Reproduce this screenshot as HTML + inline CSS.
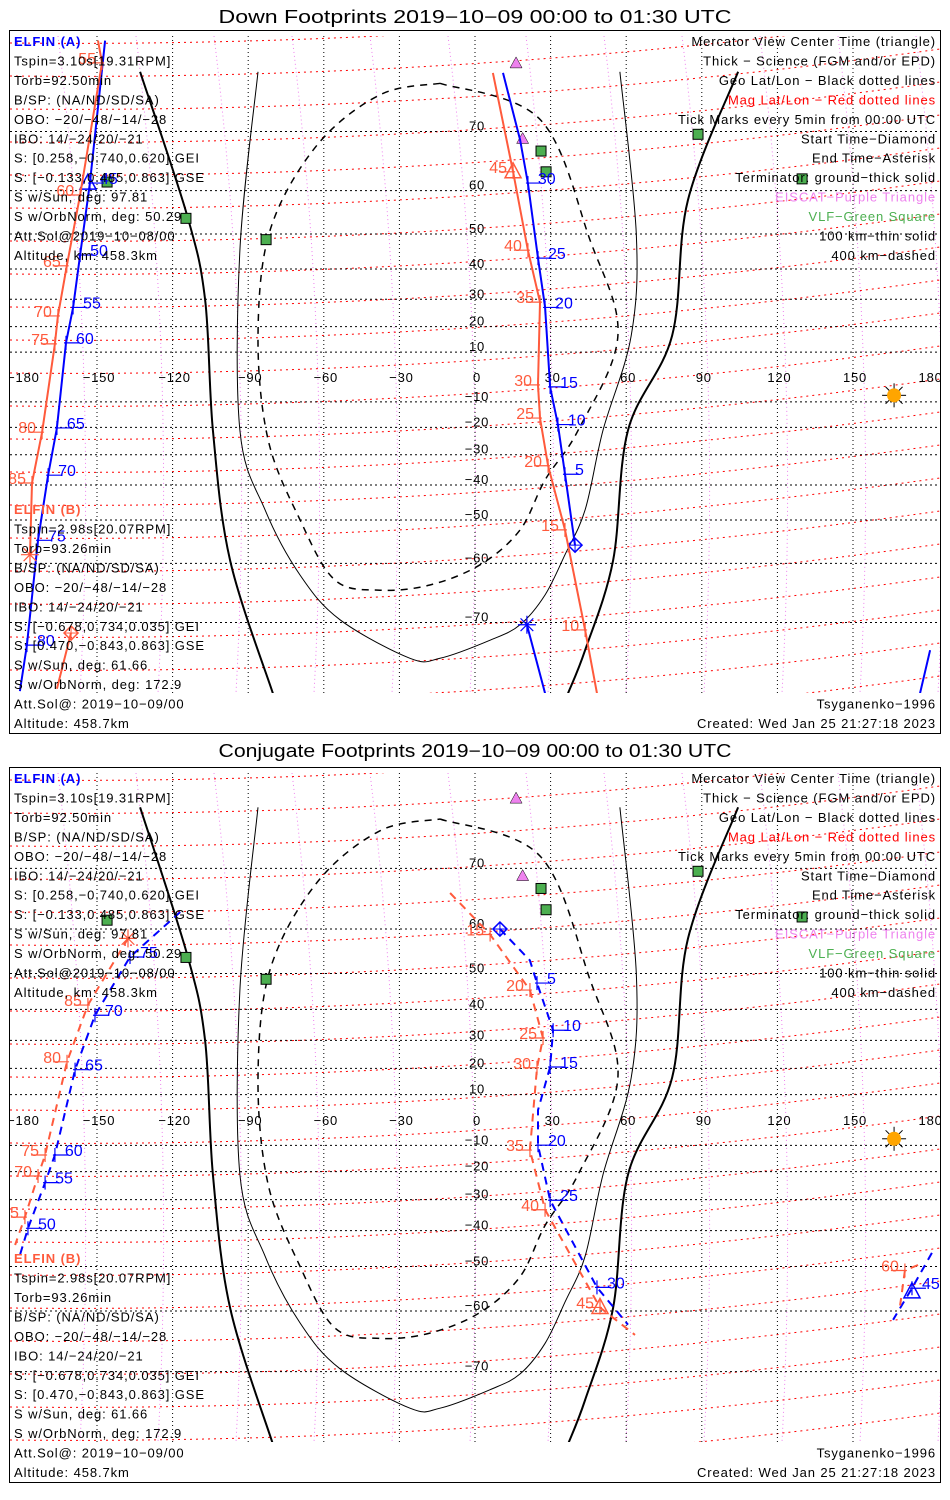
<!DOCTYPE html>
<html><head><meta charset="utf-8"><title>ELFIN Footprints</title>
<style>
html,body{margin:0;padding:0;background:#fff;}
svg{display:block;font-family:"Liberation Sans",sans-serif;}
</style></head>
<body>
<svg id="chart" width="950" height="1500" viewBox="0 0 950 1500" xmlns="http://www.w3.org/2000/svg"></svg>
<script>
// ---------- data (lon, lat in degrees) ----------
const lonTicks = [-180,-150,-120,-90,-60,-30,0,30,60,90,120,150,180];
const latTicks = [70,60,50,40,30,20,10,-10,-20,-30,-40,-50,-60,-70];

// terminator / footprint boundary curves (shared by both panels)
const termThickLeftLon = [-132.9,-114.3,-107.1,-104,-97.2,-80.2];
const termThickLeftLat = [76.8,54.7,29.9,-21.1,-59.4,-77.8];
const termThickRightLon = [104.4,84.5,78.2,60.7,54.8,43.7,36.9];
const termThickRightLat = [76.8,58,16.5,-21.1,-59.4,-73.5,-77.8];
const thinLoopLon = [-86.1,-93.3,-93.3,-83.3,-69.4,-53.6,-25.8,-13.9,6,17.9,27.8,35.7,43.7,50.8,62,64,57.5];
const thinLoopLat = [76.8,45.6,-21.1,-47.3,-62.3,-69.6,-74.4,-74.4,-72.3,-70.3,-65.8,-58.2,-47.3,-21.1,16.5,50,76.8];
const dashLoopLon = [-13.9,25.8,45.6,56.7,40.9,27.8,17.9,2,-17.9,-37.7,-55.6,-69.4,-82.1,-86.1,-81.3,-62.7,-37.7,-13.9];
const dashLoopLat = [75.7,71.6,48.5,16.5,-21.1,-38.4,-52.5,-60.3,-64.1,-65,-63.2,-50,-24.6,16.5,51,68,74.5,75.7];

const vlfLon = [-146,-114.7,-82.9,26.2,28.2,88.5,129.8];
const vlfLat = [61.7,53.9,48.5,67.1,63.6,69.6,62.3];
const eiscatLon = [16.3,18.9];
const eiscatLat = [77.6,69];
const sunLon = [166.3];
const sunLat = [-7.4];

// ---- Down footprints: ELFIN A (blue) ----
const downATickTimes = [5,10,15,20,25,30,45,50,55,60,65,70,75,80];
const downATickLon = [35.7,32.9,29.8,27.8,25,21,-152.8,-156.7,-159.5,-162.3,-165.9,-169.4,-173.4,-177.8];
const downATickLat = [-36.6,-18.9,-4.0,27.1,43.3,61.5,61.5,44.2,27.1,13.7,-20.2,-36.9,-55,-72.9];
const downAMidLon = [11.1,17.9,21,25,27.8,29.8,32.9,35.7,39.7];
const downAMidLat = [76.7,68.8,61.5,43.3,27.1,-4.0,-18.9,-36.6,-56.1];
const downALeftLon = [-146.8,-152.8,-156.7,-159.5,-162.3,-165.9,-169.4,-173.4,-177.8,-180.6];
const downALeftLat = [79.4,61.5,44.2,27.1,13.7,-20.2,-36.9,-55,-72.9,-77.6];
const downAEndLon = [20.6,27.8];
const downAEndLat = [-70.3,-77.8];
const downARightLon = [180.6,176.6];
const downARightLat = [-73.5,-77.8];
const downAStart = [39.7,-56.1], downAEnd = [20.6,-70.3], downAView = [-153.6,61.5];

// ---- Down footprints: ELFIN B (red) ----
const downBTickTimes = [10,15,20,25,30,35,40,45,55,60,65,70,75,80,85];
const downBTickLon = [43.7,35.7,29,25.8,25,25.8,21,15.1,-148,-156.7,-162,-165.5,-166.7,-171.8,-175.8];
const downBTickLat = [-71,-52.5,-33.8,-16.4,-3.2,29,45.6,63.6,77.6,59.1,41,24,13.3,-21.8,-39.4];
const downBMidLon = [7.1,15.1,21,25.8,25,25.8,29,35.7,43.7,48.4];
const downBMidLat = [76.7,63.6,45.6,29,-3.2,-16.4,-33.8,-52.5,-71,-77.8];
const downBLeftLon = [-149.6,-148,-156.7,-162,-165.5,-166.7,-171.8,-175.8,-176.6];
const downBLeftLat = [79.4,77.6,59.1,41,24,13.3,-21.8,-39.4,-58.2];
const downBTailLon = [-160.3,-165.9];
const downBTailLat = [-71.4,-77.4];
const downBStart = [-160.3,-71.4], downBEnd = [-176.6,-58.2], downBView = [15.1,63.6];

// ---- Conjugate footprints: ELFIN A (blue) ----
const conjATickTimes = [5,10,15,20,25,30,45,50,55,60,65,70,75];
const conjATickLon = [24.6,31,29.8,25,29.8,48.4,173.4,-177.4,-170.6,-166.7,-158.7,-150.8,-136.9];
const conjATickLat = [47.5,33.4,20.5,-9.9,-30.2,-55,-55.2,-39.3,-24,-13.7,19.5,38.2,54];
const conjAMidLon = [9.9,21.8,24.6,31,29.8,25,25,29.8,48.4,60.7];
const conjAMidLat = [60,53.2,47.5,33.4,20.5,3.9,-9.9,-30.2,-55,-62.6];
const conjALeftLon = [-117,-136.9,-150.8,-158.7,-166.7,-170.6,-177.4,-180.6];
const conjALeftLat = [63.2,54,38.2,19.5,-13.7,-24,-39.3,-47];
const conjARightLon = [181.3,173.4,165.9];
const conjARightLat = [-46.4,-55.2,-61.7];
const conjAStart = [9.9,60], conjAView = [173.4,-56];

// ---- Conjugate footprints: ELFIN B (red) ----
const conjBTickTimes = [15,20,25,30,35,40,45,60,65,70,75,80,85];
const conjBTickLon = [6,21.8,27,24.6,21.8,27.8,49.6,170.6,-178.6,-173.4,-170.6,-161.9,-153.6];
const conjBTickLat = [58.9,45.6,30.8,20.2,-11.8,-33.4,-59.3,-51,-35.8,-21.6,-13.7,22.4,41.3];
const conjBMidLon = [-9.9,6,21.8,27,24.6,21.8,27.8,49.6,63.5];
const conjBMidLat = [66.4,58.9,45.6,30.8,20.2,-11.8,-33.4,-59.3,-64.4];
const conjBLeftLon = [-137.7,-153.6,-161.9,-170.6,-173.4,-178.6,-182.5];
const conjBLeftLat = [58.1,41.3,22.4,-13.7,-21.6,-35.8,-44.2];
const conjBRightLon = [175.8,170.6,168.7];
const conjBRightLat = [-49.6,-51,-58.9];
const conjBEnd = [-137.7,58.1], conjBView = [49.6,-59.3];

const leftA = ["Tspin=3.10s[19.31RPM]","Torb=92.50min","B/SP: (NA/ND/SD/SA)","OBO: \u221220/\u221248/\u221214/\u221228","IBO: 14/\u221224/20/\u221221","S: [0.258,\u22120.740,0.620] GEI","S: [\u22120.133,0.485,0.863] GSE","S w/Sun, deg: 97.81","S w/OrbNorm, deg: 50.29","Att.Sol@2019\u221210\u221208/00","Altitude, km: 458.3km"];
const leftB = ["Tspin=2.98s[20.07RPM]","Torb=93.26min","B/SP: (NA/ND/SD/SA)","OBO: \u221220/\u221248/\u221214/\u221228","IBO: 14/\u221224/20/\u221221","S: [\u22120.678,0.734,0.035] GEI","S: [0.470,\u22120.843,0.863] GSE","S w/Sun, deg: 61.66","S w/OrbNorm, deg: 172.9","Att.Sol@: 2019\u221210\u221209/00","Altitude: 458.7km"];
const legendText = ["Mercator View Center Time (triangle)","Thick \u2212 Science (FGM and/or EPD)","Geo Lat/Lon \u2212 Black dotted lines","Mag Lat/Lon \u2212 Red dotted lines","Tick Marks every 5min from 00:00 UTC","Start Time\u2212Diamond","End Time\u2212Asterisk","Terminator: ground\u2212thick solid","EISCAT\u2212Purple Triangle","VLF\u2212Green Square","100 km\u2212thin solid","400 km\u2212dashed"];
const legendColor = ["#000","#000","#000","#ff0000","#000","#000","#000","#000","#ee82ee","#4caf50","#000","#000"];

// ---------- drawing ----------
const NS="http://www.w3.org/2000/svg";
const svg=document.getElementById('chart');
const BLUE="#0000ff", RED="#ff5a3c";
function el(tag,attrs,parent){const e=document.createElementNS(NS,tag);for(const k in attrs)e.setAttribute(k,attrs[k]);(parent||svg).appendChild(e);return e;}
function txt(s,attrs,parent){const t=el('text',attrs,parent);t.textContent=s;return t;}
function smooth(pts){
  let d=`M${pts[0][0].toFixed(1)},${pts[0][1].toFixed(1)}`;
  for(let i=0;i<pts.length-1;i++){
    const p0=pts[Math.max(0,i-1)],p1=pts[i],p2=pts[i+1],p3=pts[Math.min(pts.length-1,i+2)];
    const c1=[p1[0]+(p2[0]-p0[0])/6,p1[1]+(p2[1]-p0[1])/6];
    const c2=[p2[0]-(p3[0]-p1[0])/6,p2[1]-(p3[1]-p1[1])/6];
    d+=` C${c1[0].toFixed(1)},${c1[1].toFixed(1)} ${c2[0].toFixed(1)},${c2[1].toFixed(1)} ${p2[0].toFixed(1)},${p2[1].toFixed(1)}`;
  }
  return d;
}

function drawPanel(P){
  const xS=lon=>475+2.52*lon;
  const yS=lat=>P.y0-P.k*Math.log(Math.tan(Math.PI/4+lat*Math.PI/360));
  const g=el('g',{});
  
  
  const t=txt(P.title,{x:475,y:P.titleY,'text-anchor':'middle','font-size':18,textLength:513,lengthAdjust:'spacingAndGlyphs'},g);
  
  
  const box=el('rect',{x:9.5,y:P.boxTop+0.5,width:931,height:P.boxBot-P.boxTop,fill:'none',stroke:'#000','stroke-width':1},g);
  
  
  const cid='clip'+P.id;
  const cp=el('clipPath',{id:cid},g);
  el('rect',{x:10,y:P.mapTop,width:930,height:P.mapBot-P.mapTop},cp);
  const m=el('g',{'clip-path':'url(#'+cid+')'},g);
  
  
  for(let i=-1;i<13;i++){
    const x0=-20+i*78, y0=P.mapTop, y1=P.mapBot;
    const l=el('path',{d:`M${x0},${y0} Q${x0+40},${(y0+y1)/2} ${x0+22},${y1}`,fill:'none',stroke:'#ee82ee','stroke-width':1,'stroke-dasharray':'1 3'},m);
    
    
  }
  for(let i=-3;i<22;i++){
    const yL=P.mapTop+i*33+40;
    const l=el('path',{d:`M10,${yL} Q475,${yL+5} 940,${yL-60}`,fill:'none',stroke:'#ff0000','stroke-width':1,'stroke-dasharray':'2 4'},m);
    
    
  }
  lonTicks.forEach(lon=>{
    const x=xS(lon);
    if(lon>-180&&lon<180){
      const l=el('line',{x1:x,y1:P.mapTop,x2:x,y2:P.mapBot,stroke:'#000','stroke-width':1,'stroke-dasharray':'1 3'},m);
      
      
    }
    const lb=txt(lon===0?'0':(lon<0?'\u2212'+(-lon):String(lon)),{x:x+2,y:yS(0)+5,'text-anchor':'middle','font-size':13,fill:'#000','letter-spacing':0.8},m);
    
    
  });
  latTicks.forEach(lat=>{
    const y=yS(lat);
    const l=el('line',{x1:10,y1:y,x2:940,y2:y,stroke:'#000','stroke-width':1,'stroke-dasharray':'2 3'},m);
    
    
    const lb=txt(lat<0?'\u2212'+(-lat):String(lat),{x:477,y:y-1,'text-anchor':'middle','font-size':13,fill:'#000','letter-spacing':0.8},m);
    
    
  });
  const curve=(lons,lats,attrs,name)=>{
    const pts=lons.map((lo,i)=>[xS(lo),yS(lats[i])]);
    const p=el('path',Object.assign({d:smooth(pts),fill:'none'},attrs),m);
    
    
    return p;
  };
  const poly=(lons,lats,attrs,name)=>{
    const pts=lons.map((lo,i)=>xS(lo).toFixed(1)+','+yS(lats[i]).toFixed(1)).join(' ');
    const p=el('polyline',Object.assign({points:pts,fill:'none'},attrs),m);
    
    
    return p;
  };
  curve(termThickLeftLon,termThickLeftLat,{stroke:'#000','stroke-width':2},'terminator-ground-left');
  curve(termThickRightLon,termThickRightLat,{stroke:'#000','stroke-width':2},'terminator-ground-right');
  curve(thinLoopLon,thinLoopLat,{stroke:'#000','stroke-width':1},'terminator-100km');
  curve(dashLoopLon,dashLoopLat,{stroke:'#000','stroke-width':1.5,'stroke-dasharray':'7 6'},'terminator-400km');
  vlfLon.forEach((lo,i)=>{
    const r=el('rect',{x:xS(lo)-5,y:yS(vlfLat[i])-5,width:10,height:10,fill:'#4caf50',stroke:'#000','stroke-width':1},m);
    
    
  });
  eiscatLon.forEach((lo,i)=>{
    const x=xS(lo),y=yS(eiscatLat[i]);
    const p=el('polygon',{points:`${x},${y-6} ${x-6},${y+5} ${x+6},${y+5}`,fill:'#ee82ee',stroke:'#000','stroke-width':0.5},m);
    
    
  });
  sunLon.forEach((lo,i)=>{
    const x=xS(lo),y=yS(sunLat[i]);
    const sg=el('g',{},m);
    
    
    for(let a=0;a<8;a++){const an=a*Math.PI/4;el('line',{x1:x,y1:y,x2:x+12*Math.cos(an),y2:y+12*Math.sin(an),stroke:'#000','stroke-width':1},sg);}
    el('circle',{cx:x,cy:y,r:7,fill:'#ffa500'},sg);
  });
  const dash=P.dashed?{'stroke-dasharray':'8 6'}:{};
  P.tracks.forEach(T=>{
    T.segs.forEach(s=>poly(s[0],s[1],Object.assign({stroke:T.color,'stroke-width':2},dash),T.name+'-track'));
    T.times.forEach((tm,i)=>{
      const x=xS(T.tlon[i]),y=yS(T.tlat[i]);
      const tg=el('g',{},m);
      
      
      const dir=T.left?-1:1;
      el('line',{x1:x-dir*2,y1:y,x2:x+dir*14,y2:y,stroke:T.color,'stroke-width':1.2},tg);
      el('line',{x1:x,y1:y-7,x2:x,y2:y+7,stroke:T.color,'stroke-width':1.2},tg);
      txt(String(tm),{x:x+dir*(T.left?6:10),y:y+1,'text-anchor':T.left?'end':'start','font-size':16,fill:T.color},tg);
    });
    (T.diamonds||[]).forEach(d=>{
      const x=xS(d[0]),y=yS(d[1]);
      const p=el('g',{},m);
      
      
      el('polygon',{points:`${x},${y-7} ${x+7},${y} ${x},${y+7} ${x-7},${y}`,fill:'none',stroke:T.color,'stroke-width':1.5},p);
      el('line',{x1:x-7,y1:y,x2:x+7,y2:y,stroke:T.color},p);el('line',{x1:x,y1:y-7,x2:x,y2:y+7,stroke:T.color},p);
    });
    (T.asterisks||[]).forEach(d=>{
      const x=xS(d[0]),y=yS(d[1]);
      const p=el('g',{},m);
      
      
      for(let a=0;a<4;a++){const an=a*Math.PI/4;el('line',{x1:x-9*Math.cos(an),y1:y-9*Math.sin(an),x2:x+9*Math.cos(an),y2:y+9*Math.sin(an),stroke:T.color,'stroke-width':1.2},p);}
    });
    (T.triangles||[]).forEach(d=>{
      const x=xS(d[0]),y=yS(d[1]);
      const p=el('polygon',{points:`${x},${y-9} ${x-8},${y+6} ${x+8},${y+6}`,fill:'none',stroke:T.color,'stroke-width':1.5},m);
      
      
    });
  });
  const fs=13, lh=19.45, ls=0.9;
  const ta=txt('ELFIN (A)',{x:14,y:P.boxTop+16,'font-size':fs,'font-weight':'bold',fill:BLUE,'letter-spacing':ls},g);
  
  
  leftA.forEach((s,i)=>{const t=txt(s,{x:14,y:P.boxTop+16+lh*(i+1),'font-size':fs,'letter-spacing':ls},g);});
  const tb=txt('ELFIN (B)',{x:14,y:P.boxBot-5-lh*11,'font-size':fs,'font-weight':'bold',fill:RED,'letter-spacing':ls},g);
  
  
  leftB.forEach((s,i)=>{const t=txt(s,{x:14,y:P.boxBot-5-lh*(10-i),'font-size':fs,'letter-spacing':ls},g);});
  legendText.forEach((s,i)=>{const t=txt(s,{x:936,y:P.boxTop+16+lh*i,'font-size':fs,'text-anchor':'end',fill:legendColor[i],'letter-spacing':ls},g);});
  const ts=txt('Tsyganenko\u22121996',{x:936,y:P.boxBot-5-lh,'font-size':fs,'text-anchor':'end','letter-spacing':ls},g);
  
  
  const cr=txt('Created: Wed Jan 25 21:27:18 2023',{x:936,y:P.boxBot-5,'font-size':fs,'text-anchor':'end','letter-spacing':ls},g);
  
  
}

drawPanel({id:1,name:'down-footprints-panel',title:'Down Footprints 2019\u221210\u221209 00:00 to 01:30 UTC',titleY:23,
  boxTop:30,boxBot:733,mapTop:36,mapBot:693,y0:377,k:141.5,dashed:false,
  tracks:[
    {name:'elfin-a',color:BLUE,left:false,times:downATickTimes,tlon:downATickLon,tlat:downATickLat,
     segs:[[downAMidLon,downAMidLat],[downALeftLon,downALeftLat],[downAEndLon,downAEndLat],[downARightLon,downARightLat]],
     diamonds:[downAStart],asterisks:[downAEnd],triangles:[downAView]},
    {name:'elfin-b',color:RED,left:true,times:downBTickTimes,tlon:downBTickLon,tlat:downBTickLat,
     segs:[[downBMidLon,downBMidLat],[downBLeftLon,downBLeftLat],[downBTailLon,downBTailLat]],
     diamonds:[downBStart],asterisks:[downBEnd],triangles:[downBView]}
  ]});
drawPanel({id:2,name:'conjugate-footprints-panel',title:'Conjugate Footprints 2019\u221210\u221209 00:00 to 01:30 UTC',titleY:757,
  boxTop:767,boxBot:1482,mapTop:773,mapBot:1442,y0:1120,k:145,dashed:true,
  tracks:[
    {name:'elfin-a',color:BLUE,left:false,times:conjATickTimes,tlon:conjATickLon,tlat:conjATickLat,
     segs:[[conjAMidLon,conjAMidLat],[conjALeftLon,conjALeftLat],[conjARightLon,conjARightLat]],
     diamonds:[conjAStart],asterisks:[],triangles:[conjAView]},
    {name:'elfin-b',color:RED,left:true,times:conjBTickTimes,tlon:conjBTickLon,tlat:conjBTickLat,
     segs:[[conjBMidLon,conjBMidLat],[conjBLeftLon,conjBLeftLat],[conjBRightLon,conjBRightLat]],
     diamonds:[],asterisks:[conjBEnd],triangles:[conjBView]}
  ]});
</script>
</body></html>
